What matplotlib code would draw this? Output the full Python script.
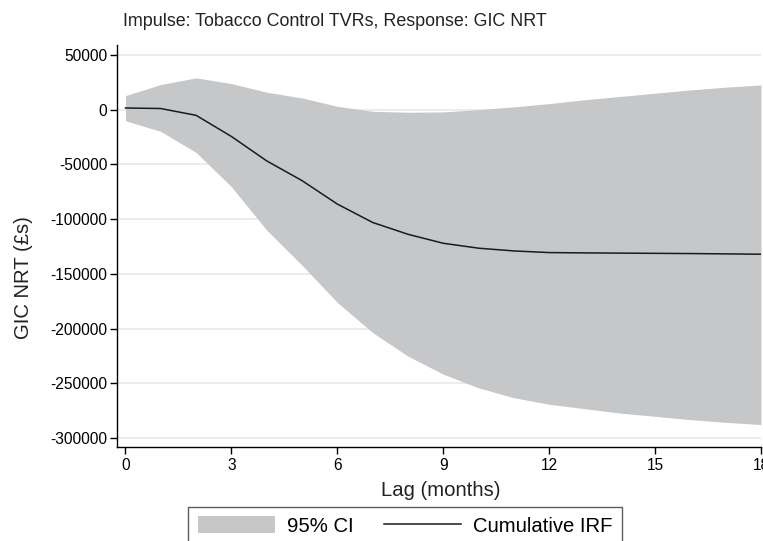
import numpy as np
import matplotlib
matplotlib.use("Agg")
import matplotlib.pyplot as plt
from matplotlib.patches import Patch
from matplotlib.lines import Line2D

plt.rcParams['font.family'] = ['Liberation Sans', 'DejaVu Sans']

# values
lag = list(range(0, 19))
irf = [1500, 1000, -5200, -24500, -46800, -64800, -86200, -103000, -113800,
       -122000, -126500, -129000, -130500, -130800, -131000, -131200,
       -131400, -131700, -132000]
ci_upper = [12800, 22900, 29000, 23800, 15900, 10700, 3000, -1500, -2400,
            -2100, 0, 2500, 5500, 9000, 12000, 15000, 18000, 20500, 22500]
ci_lower = [-10100, -19900, -39100, -70300, -110000, -142000, -176000, -203500,
            -225000, -241500, -254000, -263000, -269000, -273000, -277000,
            -280000, -283000, -285500, -287500]

yticks = [50000, 0, -50000, -100000, -150000, -200000, -250000, -300000]
xticks = [0, 3, 6, 9, 12, 15, 18]

fig = plt.figure(figsize=(7.63, 5.41), dpi=100)
ax = fig.add_axes([117 / 763, 1 - 447 / 541, (761 - 117) / 763, (447 - 45) / 541])

ci_col = '#c6c7c9'
ax.fill_between(lag, ci_lower, ci_upper, color=ci_col, linewidth=0, zorder=2)
ax.plot(lag, irf, color='#1a1a1a', linewidth=1.1, zorder=3)

ax.set_xlim(-0.24, 18.0)
ax.set_ylim(-308000, 59000)
ax.set_yticks(yticks)
ax.set_yticklabels([str(v) for v in yticks])
ax.set_xticks(xticks)
ax.grid(axis='y', color='#ebebeb', linewidth=1.3, zorder=0)
ax.set_axisbelow(True)

for s in ['top', 'right']:
    ax.spines[s].set_visible(False)
for s in ['left', 'bottom']:
    ax.spines[s].set_linewidth(1.0)
    ax.spines[s].set_color('black')
ax.tick_params(axis='both', direction='out', length=5, width=1.0,
               labelsize=11.2, colors='black')
ax.tick_params(axis='y', pad=2)
ax.tick_params(axis='x', pad=3)

fig.text(335 / 763, 1 - 21 / 541, 'Impulse: Tobacco Control TVRs, Response: GIC NRT',
         ha='center', va='center', fontsize=12.9, color='#222222')
fig.text(24 / 763, 1 - 278 / 541, 'GIC NRT (£s)', rotation=90,
         ha='center', va='center', fontsize=14.6, color='#222222')
fig.text(441 / 763, 1 - 491 / 541, 'Lag (months)',
         ha='center', va='center', fontsize=14.6, color='#222222')

handles = [Patch(facecolor=ci_col, edgecolor='none', label='95% CI'),
           Line2D([0], [0], color='#1a1a1a', linewidth=1.1, label='Cumulative IRF')]
leg = fig.legend(handles=handles, loc='upper center', ncol=2,
                 bbox_to_anchor=(405 / 763, 1 - 507 / 541),
                 frameon=True, fancybox=False, fontsize=14.6,
                 handlelength=3.8, handleheight=0.9, columnspacing=1.5,
                 borderpad=0.45, handletextpad=0.6, borderaxespad=0)
leg.get_frame().set_edgecolor('#333333')
leg.get_frame().set_linewidth(1.0)

fig.savefig('out.png', dpi=100)
